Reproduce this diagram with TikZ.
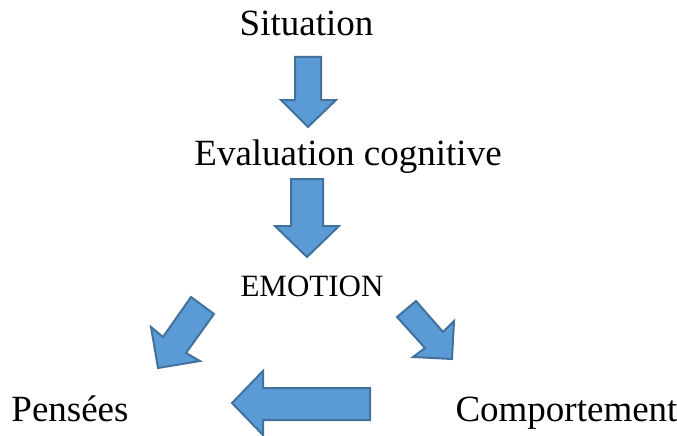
\documentclass[tikz,border=0pt]{standalone}
\usepackage{fontspec}
\setmainfont{Liberation Serif}
\tikzset{
  label/.style={anchor=base,inner sep=0pt,font=\fontsize{37}{40}\selectfont},
  blockarrow/.style={fill=arrowfill,draw=arrowline,line width=2pt,line join=miter}
}
\definecolor{arrowfill}{HTML}{5B9BD5}
\definecolor{arrowline}{HTML}{41719C}

\begin{document}
\begin{tikzpicture}[x=1pt,y=-1pt]
        \useasboundingbox(0,0)rectangle(677,436);
        \node[label](situation)at(306.5,36){Situation};
        \node[label](evaluation)at(348,165){Evaluation cognitive};
        \node[label,font=\fontsize{31}{34}\selectfont](emotion)at(312,296){EMOTION};
        \node[label](pensees)at(70,421){Pensées};
        \node[label](comportement)at(566.5,421){Comportement};

        \draw[blockarrow](295,57)--(321,57)--(321,100)--(336,100)--(308,127)--(281,100)--(295,100)--cycle;
        \draw[blockarrow](291,179)--(323,179)--(323,226)--(339,226)--(307,257)--(275,226)--(291,226)--cycle;
        \draw[blockarrow](191,297)--(214,314)--(186,353)--(200,361)--(158,368)--(151,327)--(163,337)--cycle;
        \draw[blockarrow](397,317)--(416,301)--(443,332)--(454,321)--(452,359)--(413,357)--(425,348)--cycle;
        \draw[blockarrow](370,388)--(370,420)--(263,420)--(263,435)--(232,403)--(263,371)--(263,388)--cycle;
    \end{tikzpicture}
\end{document}
